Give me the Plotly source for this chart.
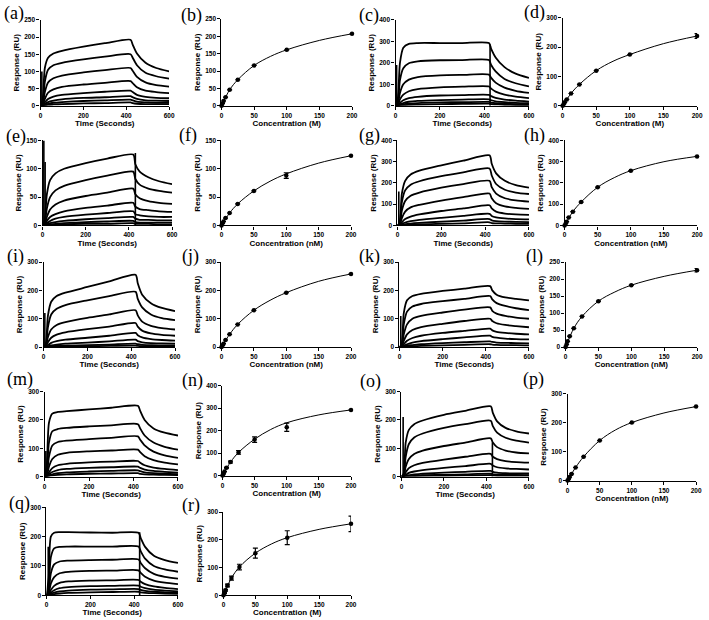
import plotly.graph_objects as go

W, H = 709, 620

# ---------------- data ----------------
T = [0, 10, 20, 35, 60, 100, 200, 300, 420, 430, 450, 490, 540, 600]

a_curves = [
    [0, 20, 110, 140, 152, 160, 172, 182, 192, 178, 152, 125, 110, 100],
    [0, 10, 70, 105, 118, 125, 135, 143, 150, 140, 118, 96, 86, 79],
    [0, 6, 40, 68, 80, 88, 97, 104, 110, 102, 84, 68, 60, 56],
    [0, 3, 20, 38, 48, 55, 62, 67, 72, 66, 54, 44, 40, 37],
    [0, 2, 10, 20, 27, 32, 37, 41, 44, 40, 32, 26, 23, 22],
    [0, 1, 5, 11, 15, 19, 23, 25, 28, 25, 20, 16, 15, 14],
    [0, 0, 3, 6, 9, 11, 14, 16, 18, 16, 12, 10, 9, 9],
    [0, 0, 1, 3, 4, 5, 7, 8, 10, 8, 6, 5, 5, 5],
]
c_curves = [
    [0, 30, 200, 270, 288, 292, 292, 292, 292, 265, 225, 180, 150, 130],
    [0, 15, 120, 175, 198, 207, 212, 213, 213, 190, 160, 125, 105, 90],
    [0, 8, 60, 100, 122, 134, 142, 144, 145, 130, 108, 85, 70, 60],
    [0, 4, 30, 52, 68, 78, 86, 89, 90, 80, 66, 52, 43, 36],
    [0, 2, 14, 26, 36, 42, 48, 50, 51, 45, 37, 29, 24, 20],
    [0, 1, 7, 13, 19, 23, 27, 29, 30, 26, 21, 17, 14, 12],
    [0, 0, 4, 7, 10, 13, 16, 17, 18, 15, 12, 10, 8, 7],
    [0, 0, 2, 3, 5, 6, 8, 9, 10, 8, 7, 5, 4, 4],
]
e_curves = [
    [0, 10, 55, 80, 92, 100, 110, 118, 125, 108, 95, 85, 78, 73],
    [0, 5, 30, 50, 62, 70, 80, 88, 95, 82, 72, 65, 61, 58],
    [0, 3, 15, 28, 37, 44, 52, 58, 65, 55, 48, 43, 40, 38],
    [0, 1, 8, 15, 20, 25, 31, 35, 40, 33, 29, 27, 25, 24],
    [0, 1, 4, 8, 12, 15, 19, 22, 25, 20, 18, 16, 15, 15],
    [0, 0, 2, 4, 6, 8, 11, 13, 15, 12, 10, 10, 9, 9],
    [0, 0, 1, 2, 3, 4, 6, 7, 8, 6, 5, 5, 5, 5],
    [0, 0, 0, 1, 1, 2, 3, 3, 4, 3, 3, 3, 2, 2],
]
g_curves = [
    [0, 15, 150, 210, 240, 258, 283, 305, 330, 290, 245, 210, 190, 178],
    [0, 10, 110, 165, 192, 208, 232, 250, 268, 235, 195, 168, 155, 148],
    [0, 6, 70, 115, 140, 155, 178, 195, 210, 180, 150, 128, 118, 112],
    [0, 3, 35, 65, 85, 97, 117, 133, 150, 128, 105, 90, 83, 78],
    [0, 2, 15, 30, 42, 52, 68, 80, 95, 80, 65, 56, 52, 50],
    [0, 1, 7, 14, 20, 26, 36, 45, 55, 45, 38, 33, 30, 29],
    [0, 0, 3, 6, 9, 12, 18, 23, 30, 24, 20, 18, 17, 16],
    [0, 0, 1, 3, 4, 5, 8, 10, 15, 11, 10, 9, 8, 8],
]
i_curves = [
    [0, 10, 110, 160, 180, 192, 212, 232, 255, 225, 185, 155, 138, 127],
    [0, 6, 70, 115, 135, 148, 165, 180, 195, 170, 140, 115, 102, 95],
    [0, 3, 35, 62, 78, 88, 103, 115, 130, 112, 90, 75, 67, 62],
    [0, 2, 17, 33, 44, 52, 63, 72, 85, 72, 58, 48, 43, 40],
    [0, 1, 7, 15, 21, 26, 33, 40, 50, 42, 34, 28, 25, 23],
    [0, 0, 3, 6, 9, 12, 16, 20, 26, 21, 17, 14, 13, 12],
    [0, 0, 1, 3, 4, 5, 7, 9, 12, 10, 8, 7, 6, 6],
    [0, 0, 0, 1, 1, 2, 3, 4, 5, 4, 3, 3, 3, 3],
]
k_curves = [
    [0, 10, 120, 165, 180, 188, 198, 206, 215, 200, 185, 175, 170, 165],
    [0, 6, 80, 125, 143, 152, 162, 170, 180, 168, 155, 145, 137, 130],
    [0, 4, 45, 80, 100, 110, 122, 132, 140, 128, 118, 110, 104, 100],
    [0, 2, 22, 45, 60, 70, 82, 92, 100, 92, 84, 78, 74, 70],
    [0, 1, 10, 22, 32, 40, 50, 57, 65, 59, 54, 50, 47, 45],
    [0, 0, 5, 10, 16, 21, 28, 34, 40, 36, 33, 30, 28, 27],
    [0, 0, 2, 5, 7, 10, 14, 17, 20, 18, 16, 15, 14, 13],
    [0, 0, 1, 2, 3, 4, 6, 8, 10, 9, 8, 7, 7, 6],
]
m_curves = [
    [0, 40, 190, 222, 228, 231, 237, 243, 250, 232, 200, 170, 155, 145],
    [0, 20, 120, 160, 168, 172, 177, 181, 185, 170, 145, 120, 105, 95],
    [0, 10, 70, 110, 122, 127, 132, 137, 142, 130, 110, 88, 75, 66],
    [0, 5, 35, 62, 77, 84, 89, 92, 95, 86, 72, 58, 49, 43],
    [0, 2, 15, 30, 40, 45, 50, 53, 55, 49, 40, 32, 27, 23],
    [0, 1, 8, 16, 23, 27, 31, 33, 35, 31, 25, 20, 17, 14],
    [0, 0, 4, 8, 12, 15, 18, 20, 22, 19, 15, 12, 10, 9],
    [0, 0, 2, 4, 6, 8, 10, 11, 12, 10, 8, 7, 6, 5],
]
o_curves = [
    [0, 10, 120, 165, 185, 198, 218, 232, 248, 225, 195, 172, 160, 152],
    [0, 5, 70, 115, 138, 152, 172, 185, 197, 178, 155, 137, 127, 120],
    [0, 3, 35, 62, 80, 92, 108, 120, 135, 120, 104, 92, 85, 82],
    [0, 1, 15, 30, 40, 48, 60, 70, 80, 70, 62, 55, 51, 49],
    [0, 1, 6, 13, 18, 23, 31, 37, 45, 39, 33, 29, 27, 25],
    [0, 0, 3, 5, 8, 10, 14, 17, 20, 17, 14, 12, 11, 11],
    [0, 0, 1, 2, 3, 5, 6, 8, 10, 8, 7, 6, 6, 5],
    [0, 0, 0, 1, 1, 2, 3, 4, 5, 4, 3, 3, 3, 3],
]
q_curves = [
    [0, 60, 200, 213, 215, 215, 214, 213, 213, 195, 165, 135, 120, 110],
    [0, 30, 130, 160, 165, 166, 166, 166, 166, 150, 125, 100, 88, 80],
    [0, 15, 75, 105, 115, 118, 120, 121, 122, 110, 92, 73, 63, 57],
    [0, 8, 40, 62, 75, 80, 83, 84, 85, 76, 63, 50, 43, 38],
    [0, 4, 18, 32, 42, 47, 50, 51, 52, 46, 38, 30, 25, 21],
    [0, 2, 9, 17, 24, 28, 31, 32, 33, 29, 24, 19, 16, 13],
    [0, 1, 5, 9, 13, 16, 19, 20, 21, 18, 15, 12, 10, 8],
    [0, 0, 2, 4, 6, 8, 10, 11, 12, 10, 8, 7, 6, 5],
]

# injection artefact spikes: (time, low, high)
a_spikes = [(6, 0, 100)]
c_spikes = [(5, 0, 190), (425, 0, 285)]
e_spikes = [(6, 0, 150), (12, 0, 112), (430, 0, 128)]
g_spikes = [(6, 0, 160)]
i_spikes = [(6, 0, 120)]
k_spikes = [(6, 0, 110)]
m_spikes = [(6, 0, 90)]
o_spikes = [(8, 0, 210), (428, 0, 120)]
q_spikes = [(8, 0, 165), (425, 0, 215)]

CONC = [0, 1.5625, 3.125, 6.25, 12.5, 25, 50, 100, 200]
b_resp = [0, 7, 14, 25, 46, 75, 116, 161, 207]
b_err = [0, 0, 0, 0, 0, 0, 0, 0, 0]
d_resp = [0, 6, 12, 22, 42, 73, 120, 175, 238]
d_err = [0, 0, 0, 0, 0, 0, 0, 0, 8]
f_resp = [0, 4, 7, 13, 22, 38, 61, 88, 123]
f_err = [0, 0, 0, 0, 0, 0, 0, 5, 0]
h_resp = [0, 8, 18, 38, 65, 110, 180, 258, 325]
h_err = [0, 0, 0, 0, 0, 0, 0, 0, 0]
j_resp = [0, 6, 12, 25, 45, 80, 130, 192, 258]
j_err = [0, 0, 0, 0, 0, 0, 0, 0, 0]
l_resp = [0, 8, 17, 32, 55, 90, 135, 182, 226]
l_err = [0, 0, 0, 0, 0, 0, 0, 0, 5]
n_resp = [0, 8, 18, 35, 60, 103, 160, 215, 292]
n_err = [0, 0, 0, 2, 4, 8, 12, 18, 0]
p_resp = [0, 5, 12, 23, 45, 82, 138, 200, 255]
p_err = [0, 0, 0, 0, 0, 0, 0, 0, 0]
r_resp = [0, 8, 18, 35, 62, 102, 152, 208, 258]
r_err = [0, 2, 3, 5, 7, 10, 18, 25, 28]

FIT_X = [0, 12.5, 25, 50, 75, 100, 150, 200]
b_fit = [0, 46, 75, 116, 142, 161, 188, 207]
d_fit = [0, 42, 73, 120, 152, 175, 212, 238]
f_fit = [0, 22, 38, 61, 78, 91, 110, 123]
h_fit = [0, 65, 110, 180, 225, 258, 300, 325]
j_fit = [0, 45, 80, 130, 165, 192, 232, 258]
l_fit = [0, 55, 90, 135, 162, 182, 208, 226]
n_fit = [0, 60, 103, 162, 205, 235, 270, 292]
p_fit = [0, 45, 82, 138, 175, 200, 233, 255]
r_fit = [0, 62, 102, 152, 185, 208, 238, 258]

# ---------------- panel setup ----------------
# (label, kind, data, spikes, y max, y dtick, x title, box (x0, x1, ytop, ybottom), label (left x, centre y))
panels = [
    ("a", "s", a_curves, a_spikes, 250, 50, "Time (Seconds)", (39, 169, 16, 103), (0, 10)),
    ("b", "b", (b_resp, b_err, b_fit), None, 250, 50, "Concentration (M)", (222, 354, 15, 103), (179, 12)),
    ("c", "s", c_curves, c_spikes, 400, 100, "Time (Seconds)", (398, 533, 16, 103), (359, 12)),
    ("d", "b", (d_resp, d_err, d_fit), None, 300, 100, "Concentration (M)", (567, 703, 14, 103), (526, 9)),
    ("e", "s", e_curves, e_spikes, 150, 50, "Time (Seconds)", (41, 172, 138, 224), (2, 134)),
    ("f", "b", (f_resp, f_err, f_fit), None, 150, 50, "Concentration (nM)", (222, 353, 138, 224), (177, 133)),
    ("g", "s", g_curves, g_spikes, 400, 100, "Time (Seconds)", (400, 533, 138, 224), (359, 133)),
    ("h", "b", (h_resp, h_err, h_fit), None, 400, 100, "Concentration (nM)", (569, 703, 138, 224), (526, 133)),
    ("i", "s", i_curves, i_spikes, 300, 100, "Time (Seconds)", (42, 175, 261, 347), (3, 255)),
    ("j", "b", (j_resp, j_err, j_fit), None, 300, 100, "Concentration (nM)", (222, 353, 261, 347), (180, 255)),
    ("k", "s", k_curves, k_spikes, 300, 100, "Time (Seconds)", (402, 533, 261, 347), (359, 255)),
    ("l", "b", (l_resp, l_err, l_fit), None, 250, 50, "Concentration (nM)", (570, 703, 261, 347), (528, 255)),
    ("m", "s", m_curves, m_spikes, 300, 100, "Time (Seconds)", (43, 178, 392, 478), (3, 380)),
    ("n", "b", (n_resp, n_err, n_fit), None, 400, 100, "Concentration (M)", (223, 353, 386, 477), (180, 381)),
    ("o", "s", o_curves, o_spikes, 300, 100, "Time (Seconds)", (404, 533, 392, 478), (360, 382)),
    ("p", "b", (p_resp, p_err, p_fit), None, 300, 100, "Concentration (nM)", (572, 702, 394, 482), (525, 380)),
    ("q", "s", q_curves, q_spikes, 300, 100, "Time (Seconds)", (45, 178, 509, 598), (5, 505)),
    ("r", "b", (r_resp, r_err, r_fit), None, 300, 100, "Concentration (M)", (224, 353, 514, 598), (180, 507)),
]

FONT = "Liberation Sans, Arial, sans-serif"
fig = go.Figure()
layout = dict(
    width=W, height=H, margin=dict(l=0, r=0, t=0, b=0),
    paper_bgcolor="white", plot_bgcolor="white", showlegend=False,
)
annotations = []

for idx, (lab, kind, data, spikes, ymax, ydt, xtitle, box, lpos) in enumerate(panels, start=1):
    xa = "x" if idx == 1 else f"x{idx}"
    ya = "y" if idx == 1 else f"y{idx}"
    x0, x1, yt, yb = box
    if kind == "s":
        for curve in data:
            fig.add_trace(go.Scatter(
                x=T, y=curve, mode="lines", xaxis=xa, yaxis=ya,
                line=dict(color="black", width=1.8, shape="spline", smoothing=0.7),
                hoverinfo="skip"))
        sx, sy = [], []
        for (t, lo, hi) in spikes:
            sx += [t, t, None]
            sy += [lo, hi, None]
        fig.add_trace(go.Scatter(x=sx, y=sy, mode="lines", xaxis=xa, yaxis=ya,
                                 line=dict(color="black", width=1.6), hoverinfo="skip"))
        xr, xdt = [0, 600], 200
    else:
        resp, err, fit = data
        fig.add_trace(go.Scatter(
            x=FIT_X, y=fit, mode="lines", xaxis=xa, yaxis=ya,
            line=dict(color="black", width=1.0, shape="spline", smoothing=1.0),
            hoverinfo="skip"))
        fig.add_trace(go.Scatter(
            x=CONC, y=resp, mode="markers", xaxis=xa, yaxis=ya,
            marker=dict(color="black", size=4.5, symbol="circle"),
            error_y=dict(type="data", array=err, visible=True, color="black",
                         thickness=1.2, width=2.5),
            hoverinfo="skip", cliponaxis=False))
        xr, xdt = [0, 200], 50

    axcommon = dict(
        showline=True, linecolor="black", linewidth=1.3, ticks="outside",
        ticklen=3, tickwidth=1.2, tickcolor="black", showgrid=False, zeroline=False,
        tickfont=dict(family=FONT, size=6.5, color="black", weight="bold"),
    )
    layout["xaxis" if idx == 1 else f"xaxis{idx}"] = dict(
        axcommon, domain=[x0 / W, x1 / W], anchor=ya, range=xr, dtick=xdt, tick0=0,
        title=dict(text=xtitle, font=dict(family=FONT, size=8, color="black", weight="bold"),
                   standoff=2),
    )
    layout["yaxis" if idx == 1 else f"yaxis{idx}"] = dict(
        axcommon, domain=[1 - yb / H, 1 - yt / H], anchor=xa, range=[0, ymax], dtick=ydt,
        tick0=0,
        title=dict(text="Response (RU)", font=dict(family=FONT, size=8, color="black", weight="bold"),
                   standoff=3),
    )
    lx, ly = lpos
    annotations.append(dict(
        text=f"({lab})", xref="paper", yref="paper",
        x=lx / W, y=1 - ly / H, xanchor="left", yanchor="middle",
        showarrow=False, font=dict(family="Liberation Serif, Times New Roman, serif",
                                   size=18, color="black")))

layout["annotations"] = annotations
fig.update_layout(**layout)
fig.write_html("out.html")
